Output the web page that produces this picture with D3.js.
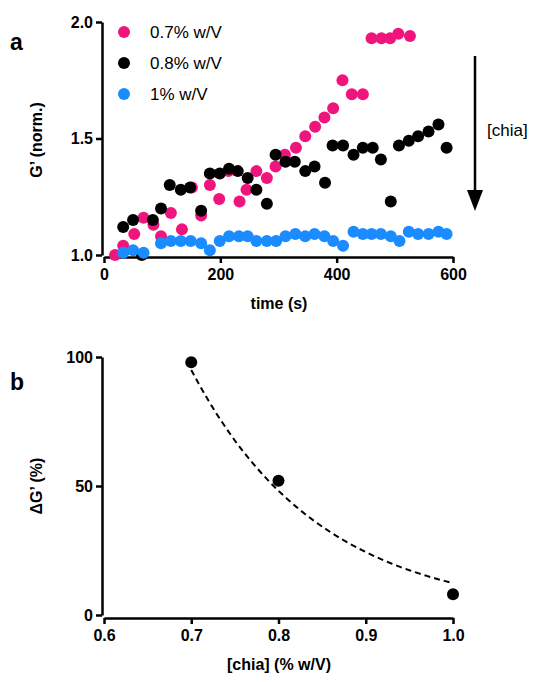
<!DOCTYPE html>
<html><head><meta charset="utf-8">
<script src="https://cdn.jsdelivr.net/npm/d3@7"></script>
<style>body{margin:0;background:#fff}text{font-family:"Liberation Sans",Arial,sans-serif}</style>
</head><body><div id="chart"></div>
<script>
// panel a data: time (s), G' normalised
const pinkT = [19,33,52,68,85,98,115,134,151,167,182,198,214,233,245,262,280,295,311,330,346,363,379,394,410,426,445,460,477,492,506,526];
const pinkG = [1.00,1.04,1.09,1.16,1.13,1.08,1.18,1.11,1.29,1.17,1.30,1.24,1.36,1.23,1.28,1.36,1.33,1.38,1.43,1.46,1.51,1.55,1.59,1.63,1.75,1.69,1.69,1.93,1.93,1.93,1.95,1.94];
const blackT = [33,50,65,84,98,113,132,148,167,182,199,215,230,247,262,280,295,312,328,346,362,380,393,411,429,445,462,476,493,507,524,540,558,575,589];
const blackG = [1.12,1.15,1.00,1.15,1.20,1.30,1.28,1.29,1.19,1.35,1.35,1.37,1.36,1.33,1.28,1.22,1.43,1.40,1.40,1.36,1.38,1.31,1.47,1.47,1.43,1.46,1.46,1.41,1.23,1.47,1.49,1.51,1.53,1.56,1.46];
const blueT = [33,50,68,98,115,132,149,167,182,199,215,232,247,262,280,296,312,329,346,362,379,394,411,429,445,460,476,493,508,524,540,558,575,589];
const blueG = [1.01,1.02,1.01,1.05,1.06,1.06,1.06,1.05,1.02,1.06,1.08,1.08,1.08,1.06,1.06,1.06,1.08,1.09,1.08,1.09,1.08,1.06,1.04,1.10,1.09,1.09,1.09,1.08,1.06,1.10,1.09,1.09,1.10,1.09];
const seriesNames = ['0.7% w/V', '0.8% w/V', '1% w/V'];
const seriesColors = ['#f0157d', '#000000', '#1a8cff'];

// panel b data
const chiaConc = [0.7, 0.8, 1.0];
const deltaG = [98, 52, 8];
const fitA = 95, fitK = 6.8; // exponential fit, dG = A*exp(-k(c-0.7))

const svg = d3.select('#chart').append('svg').attr('width', 540).attr('height', 682);

// ---------- panel a
const xA = d3.scaleLinear().domain([0, 600]).range([104, 453]);
const yA = d3.scaleLinear().domain([1, 2]).range([255, 22]);

svg.append('g').attr('transform', 'translate(0,257)')
    .call(d3.axisBottom(xA).tickValues([0, 200, 400, 600]).tickSize(6).tickPadding(6).tickSizeOuter(0));
svg.append('g').attr('transform', 'translate(102,0)')
    .call(d3.axisLeft(yA).tickValues([1, 1.5, 2]).tickFormat(d3.format('.1f')).tickSize(6).tickSizeOuter(0));

const series = [[pinkT, pinkG], [blackT, blackG], [blueT, blueG]];
series.forEach(([ts, gs], i) => {
    svg.append('g').selectAll('circle').data(ts).enter().append('circle')
        .attr('cx', (d) => xA(d)).attr('cy', (d, j) => yA(gs[j]))
        .attr('r', 6).attr('fill', seriesColors[i]);
});

// legend
seriesNames.forEach((name, i) => {
    svg.append('circle').attr('cx', 124).attr('cy', 32 + i * 31).attr('r', 6).attr('fill', seriesColors[i]);
    svg.append('text').attr('x', 150).attr('y', 38 + i * 31).style('font-size', '17px').text(name);
});

svg.append('text').attr('x', 279).attr('y', 309).attr('text-anchor', 'middle')
    .style('font-size', '16px').style('font-weight', 'bold').text('time (s)');
svg.append('text').attr('transform', 'translate(42,140) rotate(-90)').attr('text-anchor', 'middle')
    .style('font-size', '16px').style('font-weight', 'bold').text('G\u2019 (norm.)');
svg.append('text').attr('x', 10).attr('y', 50).style('font-size', '23px').style('font-weight', 'bold').text('a');

// arrow
svg.append('line').attr('x1', 475).attr('x2', 475).attr('y1', 56).attr('y2', 192).attr('stroke', '#000').attr('stroke-width', 2.5);
svg.append('path').attr('d', 'M467,190 L483,190 L475,211 Z').attr('fill', '#000');
svg.append('text').attr('x', 487).attr('y', 136).style('font-size', '17px').text('[chia]');

// ---------- panel b
const xB = d3.scaleLinear().domain([0.6, 1.0]).range([104, 453]);
const yB = d3.scaleLinear().domain([0, 100]).range([615, 357]);

svg.append('g').attr('transform', 'translate(0,618)')
    .call(d3.axisBottom(xB).tickValues([0.6, 0.7, 0.8, 0.9, 1.0]).tickFormat(d3.format('.1f')).tickSize(6).tickPadding(6).tickSizeOuter(0));
svg.append('g').attr('transform', 'translate(102,0)')
    .call(d3.axisLeft(yB).tickValues([0, 50, 100]).tickSize(6).tickSizeOuter(0));

const fitX = d3.range(0.7, 1.0001, 0.01);
svg.append('path').datum(fitX)
    .attr('d', d3.line().x((d) => xB(d)).y((d) => yB(fitA * Math.exp(-fitK * (d - 0.7)))))
    .attr('fill', 'none').attr('stroke', '#000').attr('stroke-width', 2).attr('stroke-dasharray', '6,4');

svg.append('g').selectAll('circle').data(chiaConc).enter().append('circle')
    .attr('cx', (d) => xB(d)).attr('cy', (d, i) => yB(deltaG[i])).attr('r', 6).attr('fill', '#000');

svg.append('text').attr('x', 279).attr('y', 670).attr('text-anchor', 'middle')
    .style('font-size', '16px').style('font-weight', 'bold').text('[chia] (% w/V)');
svg.append('text').attr('transform', 'translate(42,486) rotate(-90)').attr('text-anchor', 'middle')
    .style('font-size', '16px').style('font-weight', 'bold').text('\u0394G\u2019 (%)');
svg.append('text').attr('x', 10).attr('y', 390).style('font-size', '23px').style('font-weight', 'bold').text('b');

svg.selectAll('.domain, .tick line').attr('stroke', '#000').attr('stroke-width', 2.5);
svg.selectAll('.tick text').style('font-size', '16px').style('font-weight', 'bold')
    .style('font-family', '"Liberation Sans", Arial, sans-serif').attr('fill', '#000');
</script></body></html>
